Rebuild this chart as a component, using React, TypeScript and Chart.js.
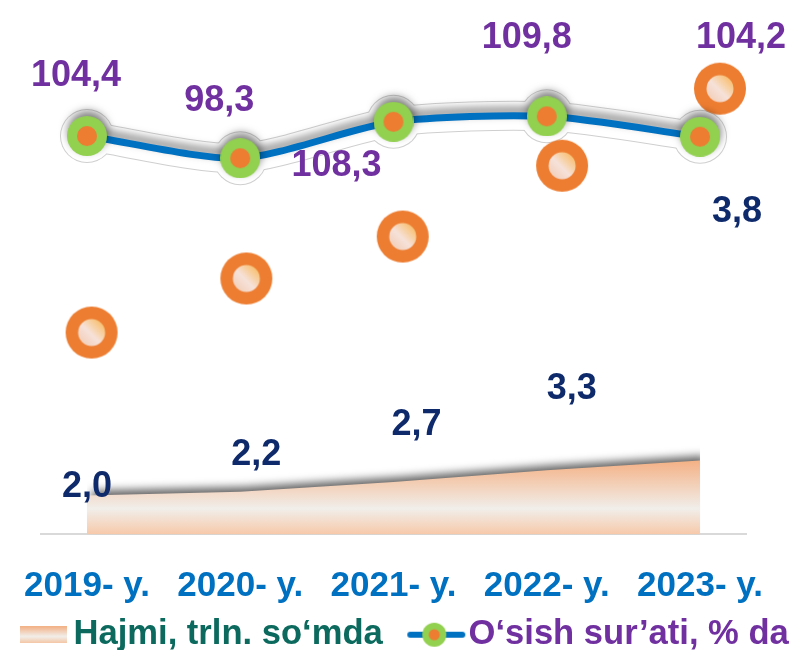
import React, { useEffect, useRef } from 'react';
import { Chart, registerables } from 'chart.js';

// ---- data ----
const categories = ['2019- y.', '2020- y.', '2021- y.', '2022- y.', '2023- y.'];
const volume = [2.0, 2.2, 2.7, 3.3, 3.8]; // Hajmi, trln. so'mda
const growth = [104.4, 98.3, 108.3, 109.8, 104.2]; // O'sish sur'ati, % da
// decorative orange ring markers (their own hidden scale)
const markerPos = [0.03, 1.04, 2.06, 3.1, 4.13];
const markerLevel = [38.5, 48.8, 56.8, 70.3, 85.0];
const legendLabels = ['Hajmi, trln. so‘mda', 'O‘sish sur’ati, % da'];

const FONT = '"Liberation Sans", Arial, Helvetica, sans-serif';

// label offsets relative to the data point (style, not data)
const growthLabelOffsets: [number, number][] = [[-11, -60], [-21, -57], [-57, 44], [-20, -78], [41, -99]];
const volumeLabelOffsets: [number, number][] = [[0, -8], [16, -37], [23, -57], [25, -81], [37, -249]];

const AREA = 0;
const LINE = 4;

const shadowPlugin = {
  id: 'dsShadow',
  beforeDatasetDraw(chart: any, args: any) {
    const s = chart.data.datasets[args.index].shadow;
    if (!s) return;
    const ctx = chart.ctx;
    ctx.save();
    ctx.shadowColor = s.color;
    ctx.shadowBlur = s.blur;
    ctx.shadowOffsetX = s.x;
    ctx.shadowOffsetY = s.y;
  },
  afterDatasetDraw(chart: any, args: any) {
    const s = chart.data.datasets[args.index].shadow;
    if (!s) return;
    chart.ctx.restore();
  },
};

Chart.register(shadowPlugin as any);
Chart.register(...registerables);

const fmt = (v: number) => v.toFixed(1).replace('.', ',');

const valueLabels = {
  id: 'valueLabels',
  afterDatasetsDraw(chart: any) {
    const ctx = chart.ctx;
    const sets = [
      { idx: LINE, values: growth, color: '#7030A0', offsets: growthLabelOffsets },
      { idx: AREA, values: volume, color: '#0F2A6B', offsets: volumeLabelOffsets },
    ];
    sets.forEach((set) => {
      const meta = chart.getDatasetMeta(set.idx);
      ctx.save();
      ctx.font = `bold 36px ${FONT}`;
      ctx.fillStyle = set.color;
      ctx.textAlign = 'center';
      ctx.textBaseline = 'middle';
      meta.data.forEach((pt: any, i: number) => {
        const [dx, dy] = set.offsets[i];
        ctx.fillText(fmt(set.values[i]), pt.x + dx, pt.y + dy);
      });
      ctx.restore();
    });
  },
};

function makeRingIcon() {
  const c = document.createElement('canvas');
  c.width = 54;
  c.height = 54;
  const g = c.getContext('2d')!;
  g.beginPath();
  g.arc(27, 27, 26, 0, Math.PI * 2);
  g.fillStyle = '#ED7D31';
  g.fill();
  const grad = g.createLinearGradient(37, 17, 17, 37);
  grad.addColorStop(0, '#F8C070');
  grad.addColorStop(0.55, '#F6E2DA');
  grad.addColorStop(1, '#F3D0BA');
  g.beginPath();
  g.arc(27, 27, 13.5, 0, Math.PI * 2);
  g.fillStyle = grad;
  g.fill();
  return c;
}

function makeDotIcon() {
  const c = document.createElement('canvas');
  c.width = 40;
  c.height = 40;
  const g = c.getContext('2d')!;
  g.beginPath();
  g.arc(20, 20, 20, 0, Math.PI * 2);
  g.fillStyle = '#92D050';
  g.fill();
  g.beginPath();
  g.arc(20, 20, 10, 0, Math.PI * 2);
  g.fillStyle = '#ED7D31';
  g.fill();
  return c;
}

function makeAreaIcon() {
  const c = document.createElement('canvas');
  c.width = 52;
  c.height = 17;
  const g = c.getContext('2d')!;
  const grad = g.createLinearGradient(0, 0, 0, 17);
  grad.addColorStop(0, '#F3B084');
  grad.addColorStop(0.6, '#F2EFEB');
  grad.addColorStop(1, '#F5C5A3');
  g.fillStyle = grad;
  g.fillRect(0, 0, 52, 17);
  return c;
}

function makeLineIcon() {
  const c = document.createElement('canvas');
  c.width = 60;
  c.height = 28;
  const g = c.getContext('2d')!;
  g.strokeStyle = '#0070C0';
  g.lineWidth = 6;
  g.lineCap = 'round';
  g.beginPath();
  g.moveTo(4, 14);
  g.lineTo(56, 14);
  g.stroke();
  g.beginPath();
  g.arc(28, 14, 12, 0, Math.PI * 2);
  g.fillStyle = '#92D050';
  g.fill();
  g.beginPath();
  g.arc(28, 14, 5.5, 0, Math.PI * 2);
  g.fillStyle = '#ED7D31';
  g.fill();
  return c;
}

export default function App() {
  const ref = useRef<HTMLCanvasElement | null>(null);

  useEffect(() => {
    if (!ref.current) return;
    const ringIcon = makeRingIcon();
    const dotIcon = makeDotIcon();
    const areaIcon = makeAreaIcon();
    const lineIcon = makeLineIcon();

    const pts = (vals: number[]) => vals.map((v, i) => ({ x: i, y: v }));

    const areaGradient = (ctx: any) => {
      const chart = ctx.chart;
      if (!chart.chartArea) return '#F5C8A8';
      const ys = chart.scales.yA;
      const top = ys.getPixelForValue(Math.max(...volume));
      const bottom = ys.getPixelForValue(0);
      const g = chart.ctx.createLinearGradient(0, top, 0, bottom);
      g.addColorStop(0, '#F4B185');
      g.addColorStop(0.65, '#F1EEEA');
      g.addColorStop(1, '#F7C9AA');
      return g;
    };

    const chart = new Chart(ref.current, {
      type: 'line',
      data: {
        datasets: [
          {
            label: legendLabels[0],
            data: pts(volume),
            yAxisID: 'yA',
            fill: 'origin',
            backgroundColor: areaGradient,
            borderColor: 'rgba(0,0,0,0)',
            borderWidth: 0,
            pointRadius: 0,
            tension: 0,
            order: 5,
            shadow: { color: 'rgba(0,0,0,0.6)', blur: 9, x: 5, y: -5 },
          } as any,
          {
            label: 'glow-outline',
            data: pts(growth),
            yAxisID: 'yL',
            borderColor: '#CFCFCF',
            borderWidth: 30,
            pointRadius: 27,
            pointBorderWidth: 0,
            pointBackgroundColor: '#CFCFCF',
            tension: 0.25,
            order: 4,
          },
          {
            label: 'glow',
            data: pts(growth),
            yAxisID: 'yL',
            borderColor: '#FFFFFF',
            borderWidth: 28,
            pointRadius: 26,
            pointBorderWidth: 0,
            pointBackgroundColor: '#FFFFFF',
            tension: 0.25,
            order: 3,
          },
          {
            label: 'rings',
            data: markerPos.map((x, i) => ({ x, y: markerLevel[i] })),
            yAxisID: 'yC',
            showLine: false,
            pointStyle: ringIcon as any,
            pointRadius: 26,
            order: 2,
          },
          {
            label: legendLabels[1],
            data: pts(growth),
            yAxisID: 'yL',
            borderColor: '#0070C0',
            borderWidth: 7,
            pointStyle: dotIcon as any,
            pointRadius: 20,
            tension: 0.25,
            order: 1,
            shadow: { color: 'rgba(0,0,0,0.5)', blur: 8, x: 1, y: -5 },
          } as any,
        ],
      },
      options: {
        responsive: false,
        devicePixelRatio: 1,
        animation: false,
        events: [],
        clip: false as any,
        layout: { autoPadding: false, padding: { left: 20, right: 0, top: 10, bottom: -12 } },
        scales: {
          x: {
            type: 'linear',
            min: -0.3,
            max: 4.3,
            afterBuildTicks: (s: any) => {
              s.ticks = categories.map((_, i) => ({ value: i }));
            },
            afterFit: (s: any) => {
              s.height = 83;
              s.paddingLeft = 0;
              s.paddingRight = 0;
            },
            ticks: {
              autoSkip: false,
              maxRotation: 0,
              padding: 31,
              color: '#0070C0',
              font: { family: FONT, size: 35, weight: 'bold' },
              callback: (v: any) => categories[v as number] ?? '',
            },
            grid: { display: false, drawTicks: false },
            border: { display: true, color: '#D9D9D9', width: 2 },
          },
          yA: {
            type: 'linear',
            position: 'left',
            min: 0,
            max: 27,
            ticks: { display: false },
            grid: { display: false, drawTicks: false },
            border: { display: false },
            afterFit: (s: any) => {
              s.width = 21;
            },
          },
          yL: {
            type: 'linear',
            position: 'right',
            min: -5,
            max: 139,
            ticks: { display: false },
            grid: { display: false, drawTicks: false },
            border: { display: false },
            afterFit: (s: any) => {
              s.width = 49;
            },
          },
          yC: {
            type: 'linear',
            display: false,
            min: 0,
            max: 100,
          },
        },
        plugins: {
          tooltip: { enabled: false },
          legend: {
            position: 'bottom',
            labels: {
              usePointStyle: true,
              pointStyleWidth: 30,
              padding: 0,
              font: { family: FONT, size: 34.6, weight: 'bold' },
              generateLabels: () => [
                {
                  text: legendLabels[0] + '    ',
                  fontColor: '#0B6A5D',
                  pointStyle: areaIcon,
                  hidden: false,
                  lineWidth: 0,
                  strokeStyle: 'rgba(0,0,0,0)',
                  fillStyle: 'rgba(0,0,0,0)',
                  datasetIndex: AREA,
                } as any,
                {
                  text: legendLabels[1],
                  fontColor: '#7030A0',
                  pointStyle: lineIcon,
                  hidden: false,
                  lineWidth: 0,
                  strokeStyle: 'rgba(0,0,0,0)',
                  fillStyle: 'rgba(0,0,0,0)',
                  datasetIndex: LINE,
                } as any,
              ],
            },
          },
        },
      },
      plugins: [valueLabels as any],
    });

    return () => chart.destroy();
  }, []);

  return (
    <div style={{ position: 'absolute', left: 0, top: 0, width: 795, height: 650, background: '#fff' }}>
      <canvas ref={ref} width={795} height={650} style={{ display: 'block' }} />
    </div>
  );
}
